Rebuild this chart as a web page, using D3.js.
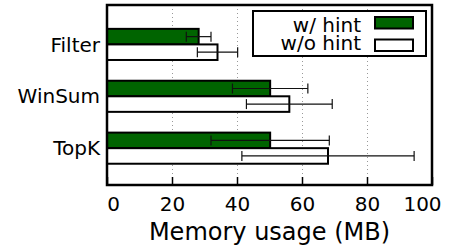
<!DOCTYPE html>
<html>
<head>
<meta charset="utf-8">
<script src="https://cdn.jsdelivr.net/npm/d3@7"></script>
<style>
  body { margin: 0; background: #fff; }
  text { font-family: "DejaVu Sans", sans-serif; fill: #000; }
</style>
</head>
<body>
<script>
// data
var categories = ['Filter', 'WinSum', 'TopK']
var withHint = [28.2, 50.2, 50.2]
var withHintErr = [3.8, 11.6, 18.2]
var withoutHint = [34, 56.1, 68]
var withoutHintErr = [6.2, 13.2, 26.5]
var xTicks = [0, 20, 40, 60, 80, 100]
var seriesNames = ['w/ hint', 'w/o hint']
var seriesColors = ['#006400', '#ffffff']

var W = 456, H = 252
var pLeft = 107, pRight = 432, pTop = 5, pBottom = 185

var svg = d3.select('body').append('svg')
  .attr('width', W)
  .attr('height', H)

var x = d3.scaleLinear().domain([0, 100]).range([pLeft, pRight])
// category index: first category on top
var y = d3.scaleLinear().domain([-0.71, 2.76]).range([pBottom, pTop])
var idx = function(i) { return categories.length - 1 - i }
var barH = 0.3

// dotted grid
svg.append('g').selectAll('line')
  .data(xTicks.slice(1, -1))
  .enter().append('line')
  .attr('x1', function(d) { return x(d) + 0.5 })
  .attr('x2', function(d) { return x(d) + 0.5 })
  .attr('y1', pTop)
  .attr('y2', pBottom)
  .attr('stroke', '#999')
  .attr('stroke-width', 1)
  .attr('stroke-dasharray', '1,3')

var series = [
  { name: seriesNames[0], vals: withHint, errs: withHintErr, color: seriesColors[0], off: barH },
  { name: seriesNames[1], vals: withoutHint, errs: withoutHintErr, color: seriesColors[1], off: 0 }
]

series.forEach(function(s) {
  var g = svg.append('g')
  g.selectAll('rect')
    .data(s.vals)
    .enter().append('rect')
    .attr('x', x(0))
    .attr('y', function(d, i) { return y(idx(i) + s.off) })
    .attr('width', function(d) { return x(d) - x(0) })
    .attr('height', y(0) - y(barH))
    .attr('fill', s.color)
    .attr('stroke', '#000')
    .attr('stroke-width', 2)

  var cy = function(i) { return y(idx(i) + s.off - barH / 2) }
  var eb = g.selectAll('g.err')
    .data(s.vals)
    .enter().append('g')
    .attr('class', 'err')
    .attr('stroke', '#111')
    .attr('stroke-width', 1.2)
  eb.append('line')
    .attr('x1', function(d, i) { return x(d - s.errs[i]) })
    .attr('x2', function(d, i) { return x(d + s.errs[i]) })
    .attr('y1', function(d, i) { return cy(i) })
    .attr('y2', function(d, i) { return cy(i) })
  eb.append('line')
    .attr('x1', function(d, i) { return x(d - s.errs[i]) })
    .attr('x2', function(d, i) { return x(d - s.errs[i]) })
    .attr('y1', function(d, i) { return cy(i) - 5 })
    .attr('y2', function(d, i) { return cy(i) + 5 })
  eb.append('line')
    .attr('x1', function(d, i) { return x(d + s.errs[i]) })
    .attr('x2', function(d, i) { return x(d + s.errs[i]) })
    .attr('y1', function(d, i) { return cy(i) - 5 })
    .attr('y2', function(d, i) { return cy(i) + 5 })
})

// bottom axis: ticks inside
var xAxis = svg.append('g')
  .attr('transform', 'translate(0,' + pBottom + ')')
  .call(d3.axisBottom(x).tickValues(xTicks).tickSize(-8).tickPadding(12))
xAxis.select('.domain').remove()
xAxis.selectAll('line').attr('stroke', '#000').attr('stroke-width', 1.5)
xAxis.selectAll('text')
  .style('font-family', '"DejaVu Sans", sans-serif')
  .style('font-size', '20px')
  .attr('dx', function(d) { return d === 0 ? 6 : (d === 100 ? -10 : 0) })

// category labels
svg.append('g').selectAll('text')
  .data(categories)
  .enter().append('text')
  .attr('x', pLeft - 7)
  .attr('y', function(d, i) { return y(idx(i)) })
  .attr('dy', '0.36em')
  .attr('text-anchor', 'end')
  .style('font-size', '20px')
  .text(function(d) { return d })

// frame
svg.append('rect')
  .attr('x', pLeft)
  .attr('y', pTop)
  .attr('width', pRight - pLeft)
  .attr('height', pBottom - pTop)
  .attr('fill', 'none')
  .attr('stroke', '#000')
  .attr('stroke-width', 2.5)

svg.append('text')
  .attr('x', (pLeft + pRight) / 2)
  .attr('y', 240)
  .attr('text-anchor', 'middle')
  .style('font-size', '24px')
  .text('Memory usage (MB)')

// legend
var lg = svg.append('g')
lg.append('rect')
  .attr('x', 253).attr('y', 11)
  .attr('width', 173).attr('height', 45)
  .attr('fill', '#fff')
  .attr('stroke', '#000')
  .attr('stroke-width', 2)
series.forEach(function(s, i) {
  lg.append('text')
    .attr('x', 361)
    .attr('y', 31.5 + i * 18.5)
    .attr('text-anchor', 'end')
    .style('font-size', '20px')
    .text(s.name)
  lg.append('rect')
    .attr('x', 375).attr('y', 17 + i * 22.5)
    .attr('width', 38).attr('height', 11.5)
    .attr('fill', s.color)
    .attr('stroke', '#000')
    .attr('stroke-width', 2)
})
</script>
</body>
</html>
